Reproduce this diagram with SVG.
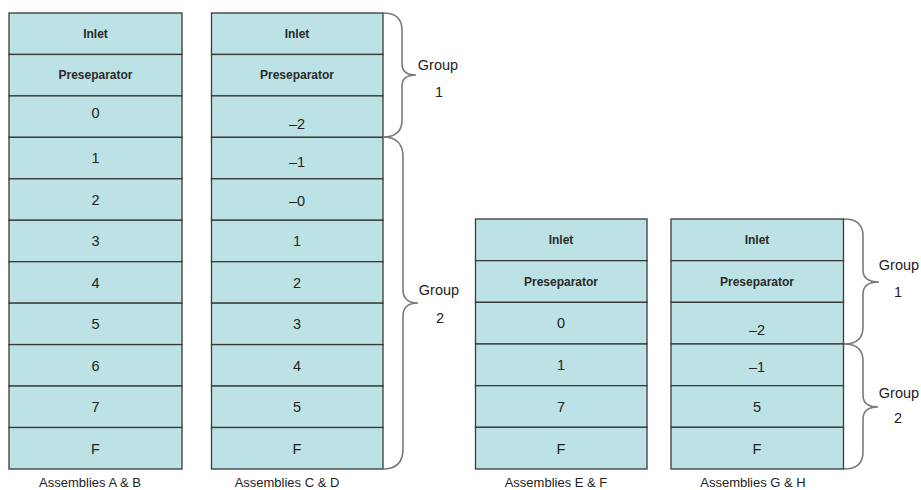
<svg xmlns="http://www.w3.org/2000/svg" width="921" height="490" viewBox="0 0 921 490">
<style>
.cell{fill:#BDE2E5;stroke:#3a3a3a;stroke-width:1.3}
.lbl{font-family:"Liberation Sans",Arial,sans-serif;font-size:12px;font-weight:bold;fill:#2a2a2a;text-anchor:middle}
.num{font-family:"Liberation Sans",Arial,sans-serif;font-size:14.5px;fill:#222;text-anchor:middle}
.cap{font-family:"Liberation Sans",Arial,sans-serif;font-size:13px;fill:#222;text-anchor:middle}
.grp{font-family:"Liberation Sans",Arial,sans-serif;font-size:14.5px;fill:#222;text-anchor:middle}
.brace{fill:none;stroke:#7a7a7a;stroke-width:1.6}
</style>
<rect width="921" height="490" fill="#fff"/>

<g id="stackAB">
<g id="ab-inlet"><rect class="cell" x="9" y="13" width="173" height="41.45"/><text class="lbl" x="95.5" y="38">Inlet</text></g>
<g id="ab-presep"><rect class="cell" x="9" y="54.45" width="173" height="41.45"/><text class="lbl" x="95.5" y="79">Preseparator</text></g>
<g id="ab-0"><rect class="cell" x="9" y="95.9" width="173" height="41.45"/><text class="num" x="95.5" y="118">0</text></g>
<g id="ab-1"><rect class="cell" x="9" y="137.35" width="173" height="41.45"/><text class="num" x="95.5" y="163">1</text></g>
<g id="ab-2"><rect class="cell" x="9" y="178.8" width="173" height="41.45"/><text class="num" x="95.5" y="204.5">2</text></g>
<g id="ab-3"><rect class="cell" x="9" y="220.25" width="173" height="41.45"/><text class="num" x="95.5" y="246">3</text></g>
<g id="ab-4"><rect class="cell" x="9" y="261.7" width="173" height="41.45"/><text class="num" x="95.5" y="287.5">4</text></g>
<g id="ab-5"><rect class="cell" x="9" y="303.15" width="173" height="41.45"/><text class="num" x="95.5" y="329">5</text></g>
<g id="ab-6"><rect class="cell" x="9" y="344.6" width="173" height="41.45"/><text class="num" x="95.5" y="370.5">6</text></g>
<g id="ab-7"><rect class="cell" x="9" y="386.05" width="173" height="41.45"/><text class="num" x="95.5" y="412">7</text></g>
<g id="ab-F"><rect class="cell" x="9" y="427.5" width="173" height="41.5"/><text class="num" x="95.5" y="453.5">F</text></g>
<text class="cap" x="90" y="487">Assemblies A &amp; B</text>
</g>

<g id="stackCD">
<g id="cd-inlet"><rect class="cell" x="211.5" y="13" width="171.5" height="41.45"/><text class="lbl" x="297" y="38">Inlet</text></g>
<g id="cd-presep"><rect class="cell" x="211.5" y="54.45" width="171.5" height="41.45"/><text class="lbl" x="297" y="79">Preseparator</text></g>
<g id="cd-m2"><rect class="cell" x="211.5" y="95.9" width="171.5" height="41.45"/><text class="num" x="297" y="129">–2</text></g>
<g id="cd-m1"><rect class="cell" x="211.5" y="137.35" width="171.5" height="41.45"/><text class="num" x="297" y="167">–1</text></g>
<g id="cd-m0"><rect class="cell" x="211.5" y="178.8" width="171.5" height="41.45"/><text class="num" x="297" y="206">–0</text></g>
<g id="cd-1"><rect class="cell" x="211.5" y="220.25" width="171.5" height="41.45"/><text class="num" x="297" y="246">1</text></g>
<g id="cd-2"><rect class="cell" x="211.5" y="261.7" width="171.5" height="41.45"/><text class="num" x="297" y="287.5">2</text></g>
<g id="cd-3"><rect class="cell" x="211.5" y="303.15" width="171.5" height="41.45"/><text class="num" x="297" y="329">3</text></g>
<g id="cd-4"><rect class="cell" x="211.5" y="344.6" width="171.5" height="41.45"/><text class="num" x="297" y="370.5">4</text></g>
<g id="cd-5"><rect class="cell" x="211.5" y="386.05" width="171.5" height="41.45"/><text class="num" x="297" y="412">5</text></g>
<g id="cd-F"><rect class="cell" x="211.5" y="427.5" width="171.5" height="41.5"/><text class="num" x="297" y="453.5">F</text></g>
<text class="cap" x="287" y="487">Assemblies C &amp; D</text>
</g>

<g id="stackEF">
<g id="ef-inlet"><rect class="cell" x="475.5" y="219" width="171.5" height="41.67"/><text class="lbl" x="561" y="244">Inlet</text></g>
<g id="ef-presep"><rect class="cell" x="475.5" y="260.67" width="171.5" height="41.67"/><text class="lbl" x="561" y="285.5">Preseparator</text></g>
<g id="ef-0"><rect class="cell" x="475.5" y="302.33" width="171.5" height="41.67"/><text class="num" x="561" y="328">0</text></g>
<g id="ef-1"><rect class="cell" x="475.5" y="344" width="171.5" height="41.67"/><text class="num" x="561" y="370">1</text></g>
<g id="ef-7"><rect class="cell" x="475.5" y="385.67" width="171.5" height="41.67"/><text class="num" x="561" y="411.5">7</text></g>
<g id="ef-F"><rect class="cell" x="475.5" y="427.33" width="171.5" height="41.67"/><text class="num" x="561" y="453.5">F</text></g>
<text class="cap" x="556" y="487">Assemblies E &amp; F</text>
</g>

<g id="stackGH">
<g id="gh-inlet"><rect class="cell" x="671" y="219" width="172.5" height="41.67"/><text class="lbl" x="757" y="244">Inlet</text></g>
<g id="gh-presep"><rect class="cell" x="671" y="260.67" width="172.5" height="41.67"/><text class="lbl" x="757" y="285.5">Preseparator</text></g>
<g id="gh-m2"><rect class="cell" x="671" y="302.33" width="172.5" height="41.67"/><text class="num" x="757" y="335">–2</text></g>
<g id="gh-m1"><rect class="cell" x="671" y="344" width="172.5" height="41.67"/><text class="num" x="757" y="372">–1</text></g>
<g id="gh-5"><rect class="cell" x="671" y="385.67" width="172.5" height="41.67"/><text class="num" x="757" y="411.5">5</text></g>
<g id="gh-F"><rect class="cell" x="671" y="427.33" width="172.5" height="41.67"/><text class="num" x="757" y="453.5">F</text></g>
<text class="cap" x="753" y="487">Assemblies G &amp; H</text>
</g>

<g id="braces">
<path class="brace" d="M383,13 Q402,13 402,30 L402,64 Q402,75 416,75 Q402,75 402,86 L402,120 Q402,137 383,137"/>
<path class="brace" d="M383,137 Q403,137 403,157 L403,290 Q403,303 418,303 Q403,303 403,316 L403,449 Q403,469 383,469"/>
<path class="brace" d="M844,219 Q863,219 863,236 L863,270 Q863,282 879,282 Q863,282 863,294 L863,327 Q863,344 844,344"/>
<path class="brace" d="M844,344 Q863,344 863,361 L863,395 Q863,407 878,407 Q863,407 863,419 L863,452 Q863,469 844,469"/>
</g>

<g id="group-labels">
<text class="grp" x="438" y="70">Group</text>
<text class="grp" x="439" y="97">1</text>
<text class="grp" x="439" y="295">Group</text>
<text class="grp" x="440" y="323">2</text>
<text class="grp" x="899" y="270">Group</text>
<text class="grp" x="898" y="297">1</text>
<text class="grp" x="899" y="398">Group</text>
<text class="grp" x="898" y="423">2</text>
</g>
</svg>
